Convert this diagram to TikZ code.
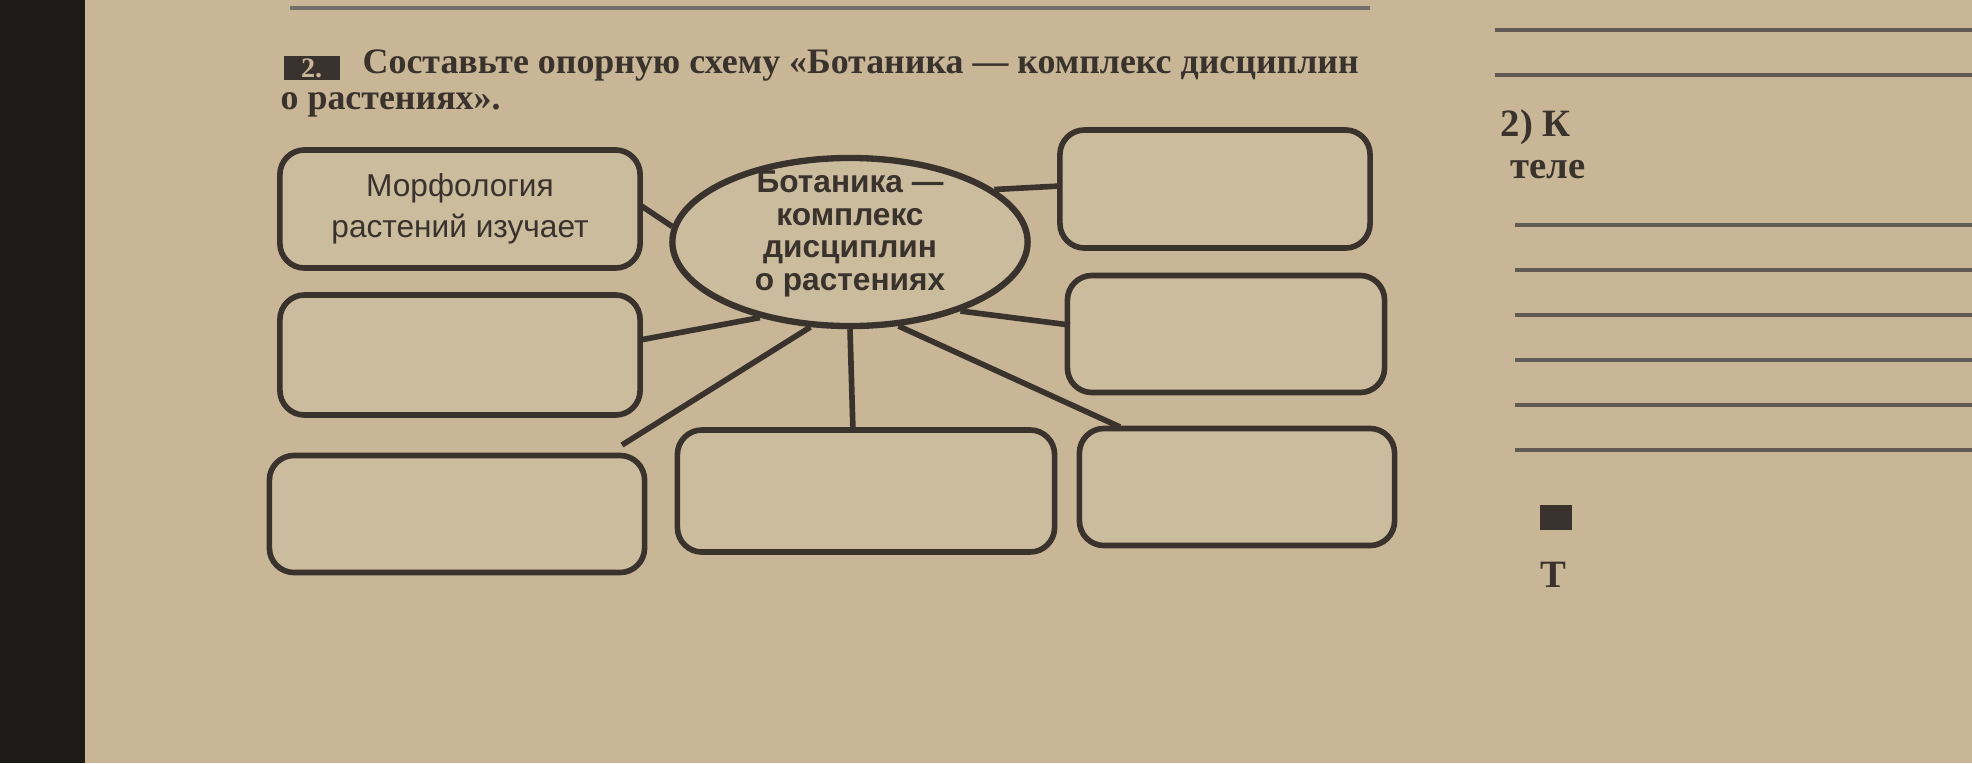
\documentclass[tikz,border=0pt]{standalone}
\usepackage{fontspec}
\setmainfont{Liberation Serif}
\newfontfamily\boxfont{Liberation Sans}
\usetikzlibrary{shapes.geometric}
\definecolor{page}{HTML}{C8B696}
\definecolor{ink}{HTML}{3A322C}
\definecolor{edge}{HTML}{1E1A18}
\tikzset{
  answer/.style={draw=ink, line width=1.6pt, rounded corners=7pt, fill=page!92!white},
  link/.style={draw=ink, line width=1.6pt},
  boxtext/.style={font=\boxfont\fontsize{9pt}{11.5pt}\selectfont, text=ink, align=center},
  headtext/.style={anchor=west, text=ink, font=\bfseries\fontsize{10.2pt}{12pt}\selectfont, inner sep=0pt},
}
\begin{document}
\begin{tikzpicture}[x=0.01cm,y=-0.01cm]
\useasboundingbox (0,0) rectangle (1972,763);
\fill[page] (0,0) rectangle (1972,763);
\fill[edge] (0,0) rectangle (85,763);
\draw[ink!70, line width=1pt] (290,8) -- (1370,8);
% heading
\node[fill=ink, minimum width=0.56cm, minimum height=0.24cm, anchor=west, text=page, font=\bfseries\fontsize{8pt}{9pt}\selectfont, inner sep=0pt] (num) at (283,68) {2.};
\node[headtext] (h1) at (362,65) {Составьте опорную схему «Ботаника — комплекс дисциплин};
\node[headtext] (h2) at (280,105) {о растениях».};
% ellipse
\node[ellipse, draw=ink, line width=1.8pt, fill=page!92!white, minimum width=3.55cm, minimum height=1.68cm, inner sep=0pt] (e) at (850,242) {};
\node[boxtext, font=\boxfont\bfseries\fontsize{9pt}{9.3pt}\selectfont, inner sep=0pt] (et) at (850,234) {Ботаника —\\комплекс\\дисциплин\\о растениях};
% boxes
\node[answer, minimum width=3.6cm, minimum height=1.18cm, boxtext] (b1) at (460,209) {Морфология\\растений изучает};
\node[answer, minimum width=3.6cm, minimum height=1.2cm] (b2) at (460,355) {};
\node[answer, minimum width=3.75cm, minimum height=1.17cm] (b3) at (457,514) {};
\node[answer, minimum width=3.77cm, minimum height=1.22cm] (b4) at (866,491) {};
\node[answer, minimum width=3.15cm, minimum height=1.17cm] (b5) at (1237,487) {};
\node[answer, minimum width=3.17cm, minimum height=1.17cm] (b6) at (1226,334) {};
\node[answer, minimum width=3.1cm, minimum height=1.18cm] (b7) at (1215,189) {};
% connectors
\coordinate (e1) at (e.175); \coordinate (e2) at (e.220);
\coordinate (e3) at (e.245); \coordinate (e4) at (e.270);
\coordinate (e5) at (e.300); \coordinate (e6) at (e.328);
\coordinate (e7) at (e.20);
\coordinate (s1) at (640,205); \coordinate (s2) at (640,340);
\coordinate (s3) at (622,445); \coordinate (s4) at (853,432);
\coordinate (s5) at (1120,427); \coordinate (s6) at (1070,325);
\coordinate (s7) at (1060,186);
\foreach \i in {1,...,7} \draw[link] (s\i) -- (e\i);
% right page fragments
\node[headtext, font=\bfseries\fontsize{11pt}{13pt}\selectfont] (r1) at (1500,127) {2) К};
\node[headtext, font=\bfseries\fontsize{11pt}{13pt}\selectfont] (r2) at (1510,170) {теле};
\node[headtext, font=\bfseries\fontsize{11pt}{13pt}\selectfont] (r3) at (1540,575) {Т};
\fill[ink] (1540,505) rectangle (1572,530);
\foreach \yy/\xx in {30/1495,75/1495,225/1515,270/1515,315/1515,360/1515,405/1515,450/1515}
  \draw[ink!80, line width=1pt] (\xx,\yy) -- (1972,\yy);
\end{tikzpicture}
\end{document}
